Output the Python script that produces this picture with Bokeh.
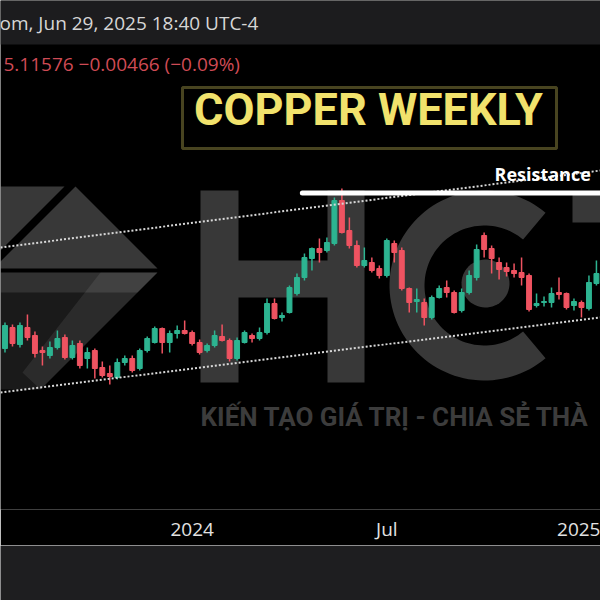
import numpy as np
import pandas as pd
from datetime import datetime

from bokeh.core.validation import silence
from bokeh.core.validation.warnings import MISSING_RENDERERS
from bokeh.embed import file_html
from bokeh.layouts import column
from bokeh.models import (BoxAnnotation, ColumnDataSource, FixedTicker, Label,
                          LinearAxis, PolyAnnotation, Range1d)
from bokeh.plotting import figure
from bokeh.resources import INLINE

silence(MISSING_RENDERERS, True)

# ---------------------------------------------------------------------------
# Weekly copper futures (USD/lb), one bar per week starting 10 Jul 2023
# ---------------------------------------------------------------------------
first_week = "2023-07-10"

opens = [3.920, 4.088, 3.952, 4.088, 4.024, 3.904, 3.864, 3.928, 4.008, 3.848,
         3.960, 3.840, 3.904, 3.768, 3.720, 3.688, 3.808, 3.840, 3.760, 3.904,
         3.968, 4.080, 3.968, 4.040, 4.064, 4.048, 3.968, 3.904, 3.944, 4.016,
         3.984, 3.840, 3.968, 4.024, 4.000, 4.048, 4.280, 4.168, 4.208, 4.360,
         4.488, 4.640, 4.720, 4.704, 4.760, 5.104, 4.864, 4.744, 4.584, 4.608,
         4.560, 4.504, 4.760, 4.704, 4.400, 4.296, 4.288, 4.168, 4.328, 4.408,
         4.368, 4.224, 4.368, 4.488, 4.824, 4.720, 4.608, 4.568, 4.544, 4.528,
         4.504, 4.264, 4.288, 4.288, 4.368, 4.360, 4.264, 4.288, 4.240, 4.440]

highs = [4.128, 4.112, 4.128, 4.192, 4.056, 3.936, 3.976, 4.064, 4.032, 3.984,
         3.984, 3.928, 3.920, 3.816, 3.784, 3.840, 3.864, 3.864, 3.920, 4.016,
         4.096, 4.088, 4.064, 4.104, 4.144, 4.064, 3.992, 3.960, 4.064, 4.112,
         4.000, 4.008, 4.064, 4.040, 4.088, 4.320, 4.320, 4.208, 4.424, 4.520,
         4.680, 4.728, 4.800, 4.808, 5.128, 5.200, 4.968, 4.784, 4.728, 4.648,
         4.584, 4.800, 4.784, 4.728, 4.408, 4.400, 4.320, 4.344, 4.424, 4.464,
         4.384, 4.400, 4.544, 4.752, 4.848, 4.744, 4.648, 4.608, 4.600, 4.648,
         4.520, 4.360, 4.336, 4.408, 4.488, 4.368, 4.320, 4.304, 4.504, 4.624]

lows = [3.888, 3.936, 3.928, 3.984, 3.848, 3.784, 3.840, 3.912, 3.832, 3.832,
        3.760, 3.760, 3.680, 3.688, 3.632, 3.672, 3.784, 3.728, 3.744, 3.888,
        3.960, 3.880, 3.888, 4.000, 4.032, 3.944, 3.872, 3.888, 3.928, 3.976,
        3.816, 3.824, 3.960, 3.968, 3.984, 4.032, 4.152, 4.136, 4.200, 4.344,
        4.464, 4.544, 4.608, 4.688, 4.744, 4.840, 4.720, 4.568, 4.568, 4.528,
        4.480, 4.488, 4.608, 4.384, 4.208, 4.208, 4.104, 4.152, 4.320, 4.328,
        4.200, 4.208, 4.352, 4.464, 4.648, 4.520, 4.472, 4.496, 4.488, 4.424,
        4.216, 4.248, 4.256, 4.248, 4.312, 4.232, 4.224, 4.168, 4.224, 4.424]

closes = [4.104, 3.960, 4.104, 4.008, 3.880, 3.888, 3.928, 4.000, 3.848, 3.944,
          3.784, 3.888, 3.760, 3.704, 3.696, 3.808, 3.840, 3.744, 3.904, 4.000,
          4.080, 3.968, 4.040, 4.064, 4.040, 3.960, 3.888, 3.944, 4.024, 3.984,
          3.840, 3.984, 4.048, 4.000, 4.048, 4.280, 4.160, 4.184, 4.408, 4.488,
          4.648, 4.720, 4.688, 4.768, 5.104, 4.848, 4.744, 4.584, 4.624, 4.544,
          4.504, 4.784, 4.688, 4.400, 4.288, 4.312, 4.168, 4.328, 4.400, 4.368,
          4.208, 4.368, 4.504, 4.712, 4.712, 4.640, 4.552, 4.536, 4.520, 4.488,
          4.232, 4.280, 4.296, 4.360, 4.352, 4.248, 4.296, 4.248, 4.448, 4.520]

# horizontal resistance and the rising channel
resistance_level = 5.164
resistance_start = "2024-04-13"
upper_channel = [4.728, 5.344]
lower_channel = [3.568, 4.168]

# time axis
tick_dates = ["2023-07-01", "2024-01-01", "2024-07-01", "2025-01-01"]
tick_labels = ["Jul", "2024", "Jul", "2025"]

# ---------------------------------------------------------------------------
UP, DOWN = "#2db491", "#ef5361"
W, MAIN_H, AXIS_H = 600, 545, 36
FRAME_H = MAIN_H - AXIS_H
X_START = datetime(2023, 7, 5, 19, 12)
X_END = datetime(2025, 1, 16, 19, 12)
DAY_MS = 86_400_000
UI_FONT = "Open Sans"


def sy(y_from_top):
    """screen y measured from the top of the chart area"""
    return FRAME_H - y_from_top


dates = pd.date_range(first_week, periods=len(opens), freq="7D")
o = np.array(opens)
c = np.array(closes)
src = ColumnDataSource(dict(
    date=dates, high=highs, low=lows,
    top=np.maximum(o, c), bottom=np.minimum(o, c),
    color=np.where(c >= o, UP, DOWN),
))

p = figure(width=W, height=MAIN_H, x_range=Range1d(X_START, X_END),
           y_range=Range1d(2.632, 6.704), x_axis_type=None, y_axis_type=None,
           toolbar_location=None, output_backend="svg",
           min_border=0, min_border_bottom=AXIS_H,
           background_fill_color="#000000", border_fill_color="#000000",
           outline_line_color=None)

# ---- watermark -----------------------------------------------------------
def shade(xs, ys, alpha):
    p.add_layout(PolyAnnotation(
        xs=list(xs), ys=[sy(v) for v in ys], xs_units="screen", ys_units="screen",
        fill_color="#ffffff", fill_alpha=alpha, line_color=None, level="underlay"))

# diamond emblem
shade([0, 64, 0], [186, 186, 250], 0.22)
shade([75, 157, -7], [186, 268, 268], 0.22)
shade([0, 157, 40, 0], [272, 272, 389, 389], 0.10)
shade([0, 157, 137, 0], [272, 272, 292, 292], 0.10)
shade([157, 100, 22, 40], [272, 272, 372, 389], 0.08)

# H
shade([200, 238, 238, 327, 327, 364, 364, 327, 327, 238, 238, 200],
      [190, 190, 260, 260, 190, 190, 382, 382, 297, 297, 382, 382], 0.22)

# C ring and its dot
theta = np.radians(np.linspace(50, 310, 90))
cx, cy, R, r = 484, 285, 95, 60
shade(np.concatenate([cx + R * np.cos(theta), cx + r * np.cos(theta[::-1])]),
      np.concatenate([cy - R * np.sin(theta), cy - r * np.sin(theta[::-1])]), 0.22)
phi = np.radians(np.linspace(0, 360, 60))
shade(485 + 24 * np.cos(phi), 283 - 24 * np.sin(phi), 0.22)

# T (bar only)
shade([572, 610, 610, 572], [192, 192, 222, 222], 0.22)

p.add_layout(Label(x=200, y=sy(431), x_units="screen", y_units="screen",
                   text="KIẾN TẠO GIÁ TRỊ - CHIA SẺ THÀ",
                   text_font="Roboto", text_font_style="bold",
                   text_font_size="26px", text_color="#3c3c3c", level="underlay"))

# ---- candles -------------------------------------------------------------
p.segment(x0="date", y0="high", x1="date", y1="low", line_color="color",
          line_width=1.5, source=src)
p.vbar(x="date", width=4.6 * DAY_MS, top="top", bottom="bottom",
       fill_color="color", line_color="color", line_width=1, source=src)

# ---- channel and resistance ---------------------------------------------
p.line(x=[X_START, X_END], y=upper_channel, line_color="#d8d8d8",
       line_width=2, line_dash="2 2")
p.line(x=[X_START, X_END], y=lower_channel, line_color="#d8d8d8",
       line_width=2, line_dash="2 2")
p.line(x=[pd.Timestamp(resistance_start), X_END],
       y=[resistance_level, resistance_level],
       line_color="#ffffff", line_width=5, line_cap="round")
p.add_layout(Label(x=494, y=sy(185), x_units="screen", y_units="screen",
                   text="Resistance", text_font=UI_FONT, text_font_style="bold",
                   text_font_size="18px", text_color="#ffffff"))

# ---- header --------------------------------------------------------------
p.add_layout(BoxAnnotation(left=0, right=W, top=sy(0), bottom=sy(44),
                           left_units="screen", right_units="screen",
                           top_units="screen", bottom_units="screen",
                           fill_color="#1c1c1e", fill_alpha=1, line_color=None,
                           level="underlay"))
p.add_layout(Label(x=-1, y=sy(35), x_units="screen", y_units="screen",
                   text="om, Jun 29, 2025 18:40 UTC-4", text_font=UI_FONT,
                   text_font_size="19px", text_color="#d6d6d6"))
p.add_layout(Label(x=3, y=sy(76), x_units="screen", y_units="screen",
                   text="5.11576  \u22120.00466 (\u22120.09%)", text_font=UI_FONT,
                   text_font_size="19px", text_color="#cf4b55"))

# title box (outline only)
p.add_layout(PolyAnnotation(xs=[182, 556, 556, 182],
                            ys=[sy(87), sy(87), sy(148), sy(148)],
                            xs_units="screen", ys_units="screen",
                            fill_color=None, line_color="#efe06a", line_width=3))
p.add_layout(Label(x=368, y=sy(135), x_units="screen", y_units="screen",
                   text="COPPER WEEKLY", text_align="center", text_font="Roboto",
                   text_font_style="bold", text_font_size="45px",
                   text_color="#f1e26c"))

# ---- time axis -----------------------------------------------------------
ticks_ms = [int(pd.Timestamp(d).value // 10**6) for d in tick_dates]
xaxis = LinearAxis(ticker=FixedTicker(ticks=ticks_ms),
                   major_label_overrides=dict(zip(ticks_ms, tick_labels)),
                   axis_line_color=None, major_tick_line_color=None,
                   minor_tick_line_color=None, major_label_standoff=0,
                   major_label_text_font=UI_FONT,
                   major_label_text_font_size="19px",
                   major_label_text_color="#e2e2e2")
p.add_layout(xaxis, "below")

# ---- bottom bar ----------------------------------------------------------
foot = figure(width=W, height=600 - MAIN_H, toolbar_location=None,
              output_backend="svg", x_axis_type=None, y_axis_type=None,
              min_border=0, background_fill_color="#1e1e20",
              border_fill_color="#1e1e20", outline_line_color=None)

page = column(p, foot, spacing=0)
open("out.html", "w").write(file_html(page, INLINE))
